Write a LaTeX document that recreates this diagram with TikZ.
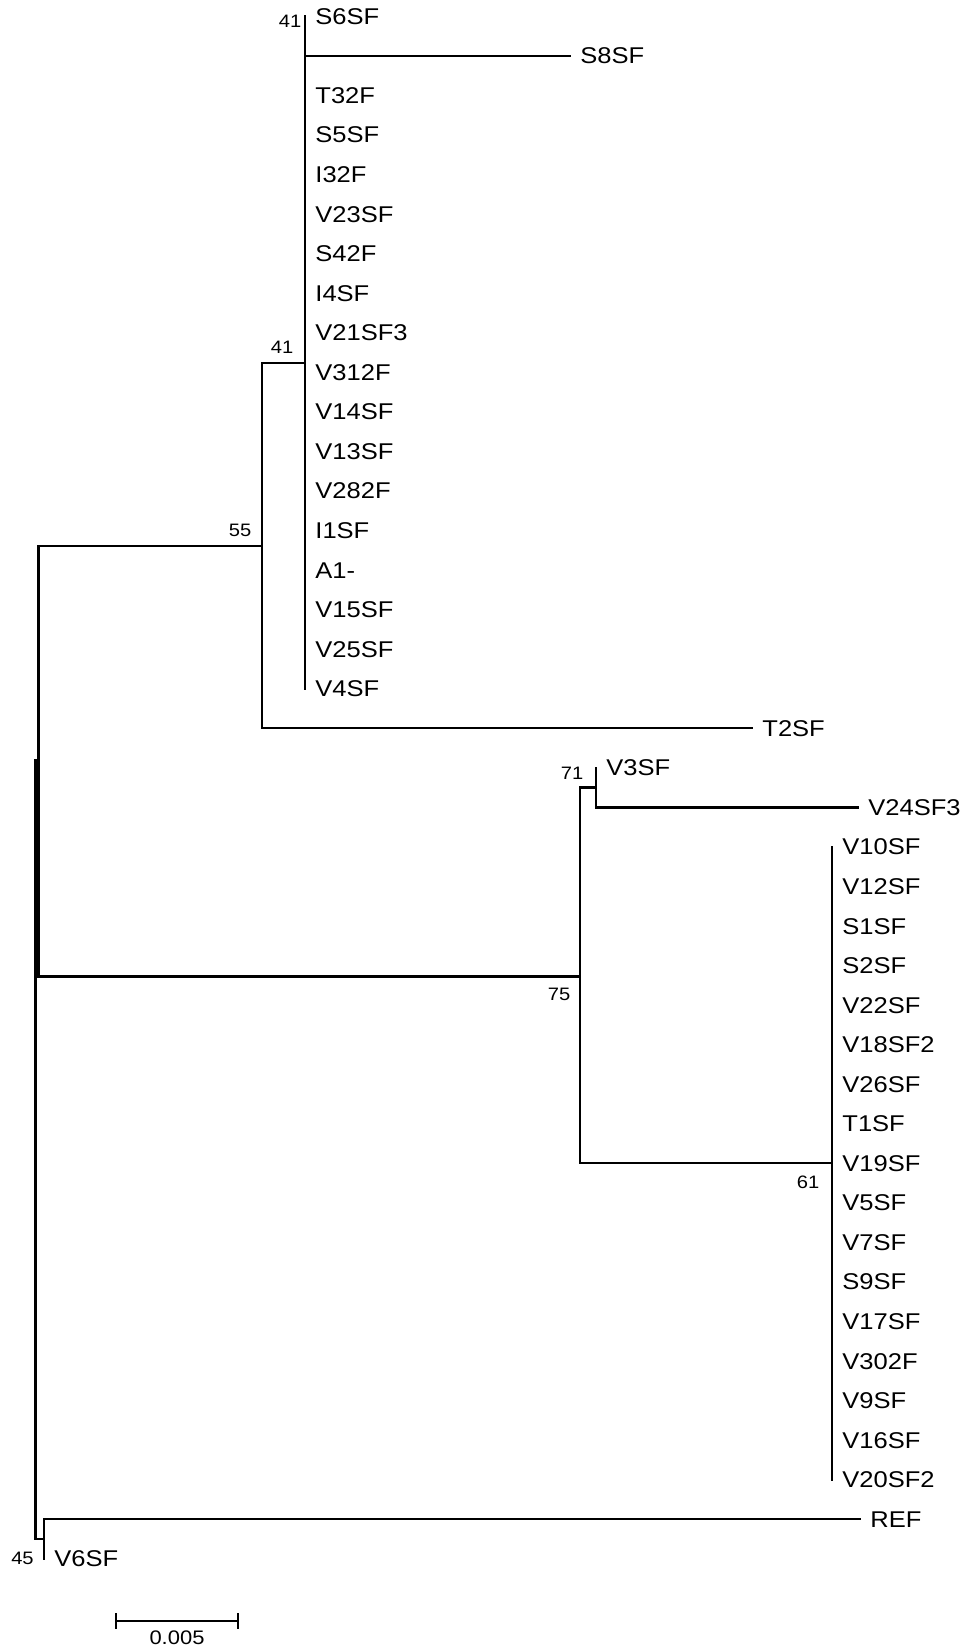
\documentclass[tikz,border=0pt]{standalone}
\usepackage{fontspec}
\setmainfont{Liberation Sans}
\newfontfamily\treefont[FakeStretch=1.12]{Liberation Sans}
\usetikzlibrary{positioning}

\begin{document}
\begin{tikzpicture}[
        x=0.5pt, y=-0.5pt,
        branch/.style={line width=1.05pt, line cap=rect},
        leaf/.style={inner sep=0pt, font=\treefont\fontsize{11.4}{13}\selectfont},
        boot/.style={inner sep=0pt, font=\treefont\fontsize{9}{10}\selectfont}
      ]
      \useasboundingbox (0,0) rectangle (969,1652);
      % inner nodes
      \coordinate (root) at (35.5,1150);
      \coordinate (nA) at (38.5,760.5);
      \coordinate (n55) at (262,546);
      \coordinate (n41) at (305,363);
      \coordinate (n41t) at (305,36.3);
      \coordinate (n75) at (580,976.5);
      \coordinate (n71) at (596,787.5);
      \coordinate (n61) at (832,1163);
      \coordinate (n45) at (44,1539);
      % tips with a branch length
      \coordinate (t0) at (305,16.5);
      \coordinate (t1) at (570,56);
      \coordinate (t18) at (752,728.4);
      \coordinate (t19) at (596,768);
      \coordinate (t20) at (858,807.5);
      \coordinate (t38) at (860,1519.4);
      \coordinate (t39) at (44,1559);
      \node[leaf, right=5pt of t0] (l0) {S6SF};
      \node[leaf, right=5pt of t1] (l1) {S8SF};
      \node[leaf, right=5pt of t18] (l18) {T2SF};
      \node[leaf, right=5pt of t19] (l19) {V3SF};
      \node[leaf, right=5pt of t20] (l20) {V24SF3};
      \node[leaf, right=5pt of t38] (l38) {REF};
      \node[leaf, right=5pt of t39] (l39) {V6SF};
      % zero length tips
      \foreach \lab [count=\i from 2] in {T32F,S5SF,I32F,V23SF,S42F,I4SF,V21SF3,V312F,V14SF,V13SF,V282F,I1SF,A1-,V15SF,V25SF,V4SF}{
        \coordinate (t\i) at (305,{16.5+39.55*\i});
        \node[leaf, right=5pt of t\i] (l\i) {\lab};
      }
      \foreach \lab [count=\i from 21] in {V10SF,V12SF,S1SF,S2SF,V22SF,V18SF2,V26SF,T1SF,V19SF,V5SF,V7SF,S9SF,V17SF,V302F,V9SF,V16SF,V20SF2}{
        \coordinate (t\i) at (832,{16.5+39.55*\i});
        \node[leaf, right=5pt of t\i] (l\i) {\lab};
      }
      % branches
      \draw[branch] (nA) -| (root) |- (n45);
      \draw[branch] (n55) -| (nA) |- (n75);
      \draw[branch] (n41) -| (n55) |- (t18);
      \draw[branch] (n41t) -- (t17);
      \draw[branch] (t0) |- (t1);
      \draw[branch] (n71) -| (n75) |- (n61);
      \draw[branch] (t19) |- (t20);
      \draw[branch] (t21) -- (t37);
      \draw[branch] (t38) -| (t39);
      % bootstrap values
      \node[boot] (b41a) at (290,21.5) {41};
      \node[boot] (b41b) at (282,347.5) {41};
      \node[boot] (b55) at (240,530.5) {55};
      \node[boot] (b71) at (572,773.5) {71};
      \node[boot] (b75) at (559,994.5) {75};
      \node[boot] (b61) at (808,1182.5) {61};
      \node[boot] (b45) at (22.5,1558.5) {45};
      % scale bar
      \coordinate (sb1) at (116,1621);
      \coordinate (sb2) at (238,1621);
      \draw[branch] (sb1) -- (sb2);
      \draw[branch] (sb1) ++(0,-7) -- ++(0,14);
      \draw[branch] (sb2) ++(0,-7) -- ++(0,14);
      \node[boot, font=\treefont\fontsize{9.8}{11}\selectfont] (sblab) at (177,1638) {0.005};
    \end{tikzpicture}
\end{document}
